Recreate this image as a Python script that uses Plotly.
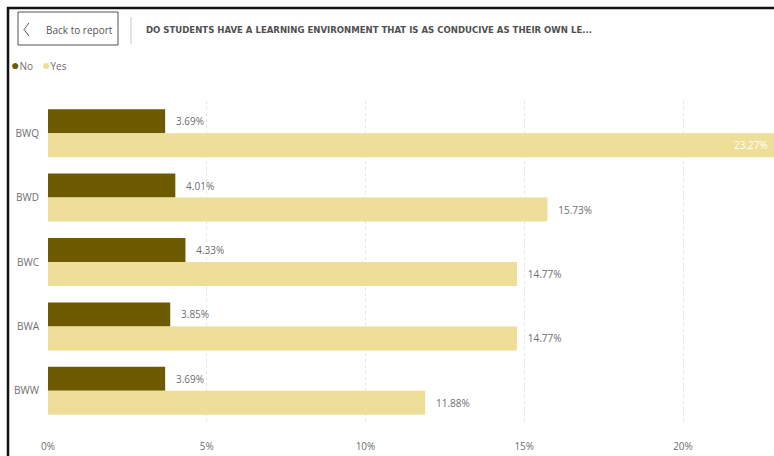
import plotly.graph_objects as go

categories = ["BWQ", "BWD", "BWC", "BWA", "BWW"]
no_values = [3.69, 4.01, 4.33, 3.85, 3.69]
yes_values = [23.27, 15.73, 14.77, 14.77, 11.88]
tick_vals = [0, 5, 10, 15, 20]
tick_text = ["0%", "5%", "10%", "15%", "20%"]
title_text = "DO STUDENTS HAVE A LEARNING ENVIRONMENT THAT IS AS CONDUCIVE AS THEIR OWN LE..."

NO_COLOR = "#6E5A00"
YES_COLOR = "#EEDE98"
LABEL_GRAY = "#6E6E6E"
FONT = "Segoe UI, Open Sans, sans-serif"

W, H = 774, 456
ML, MR, MT, MB = 48, 0, 101, 33
XMAX = (W - ML - MR) / 31.75


def px_x(x):
    return (x - ML) / (W - ML - MR)


def px_y(y):
    return 1 - (y - MT) / (H - MT - MB)


fig = go.Figure()

fig.add_trace(go.Bar(
    name="No", y=categories, x=no_values, orientation="h",
    marker=dict(color=NO_COLOR, line=dict(width=0)),
    text=["   %.2f%%" % v for v in no_values],
    textposition="outside", cliponaxis=False,
    textfont=dict(family=FONT, size=10, color=LABEL_GRAY),
))

yes_pos = ["none" if v > XMAX else "outside" for v in yes_values]
fig.add_trace(go.Bar(
    name="Yes", y=categories, x=yes_values, orientation="h",
    marker=dict(color=YES_COLOR, line=dict(width=0)),
    text=["   %.2f%%" % v for v in yes_values], textposition=yes_pos,
    textfont=dict(family=FONT, size=10, color=LABEL_GRAY),
    cliponaxis=True,
))

fig.update_layout(
    width=W, height=H,
    margin=dict(l=ML, r=MR, t=MT, b=MB),
    paper_bgcolor="white", plot_bgcolor="white",
    barmode="group", bargap=0.255, bargroupgap=0,
    showlegend=False,
    font=dict(family=FONT, size=10, color=LABEL_GRAY),
)
fig.update_xaxes(
    range=[0, XMAX], tickvals=tick_vals, ticktext=tick_text,
    showgrid=True, gridcolor="#E6E6E6", griddash="dot", gridwidth=1,
    zeroline=False, showline=False, ticks="", ticklabelstandoff=16,
    tickfont=dict(family=FONT, size=10, color=LABEL_GRAY),
)
fig.update_yaxes(
    autorange="reversed", showgrid=False, zeroline=False, showline=False,
    ticks="", ticklabelstandoff=8,
    tickfont=dict(family=FONT, size=10, color=LABEL_GRAY),
)

shapes = [
    dict(type="line", xref="paper", yref="paper", x0=px_x(7), x1=px_x(774),
         y0=px_y(8), y1=px_y(8), line=dict(color="#111111", width=2.5)),
    dict(type="line", xref="paper", yref="paper", x0=px_x(8), x1=px_x(8),
         y0=px_y(7), y1=px_y(456), line=dict(color="#111111", width=2.5)),
    dict(type="rect", xref="paper", yref="paper", x0=px_x(18), x1=px_x(118),
         y0=px_y(12), y1=px_y(45), line=dict(color="#555555", width=1),
         fillcolor="rgba(0,0,0,0)"),
    dict(type="path", xref="paper", yref="paper",
         path="M %f %f L %f %f L %f %f" % (px_x(29), px_y(23), px_x(24), px_y(29.5),
                                           px_x(29), px_y(36)),
         line=dict(color="#555555", width=1)),
    dict(type="line", xref="paper", yref="paper", x0=px_x(131), x1=px_x(131),
         y0=px_y(17), y1=px_y(44), line=dict(color="#C8C8C8", width=1)),
]

annotations = [
    dict(text="Back to report", xref="paper", yref="paper", x=px_x(44), y=px_y(30),
         xanchor="left", yanchor="middle", showarrow=False,
         font=dict(family=FONT, size=10, color="#555555")),
    dict(text="<b>" + title_text + "</b>", xref="paper", yref="paper",
         x=px_x(144), y=px_y(30), xanchor="left", yanchor="middle", showarrow=False,
         font=dict(family="DejaVu Sans Condensed, DejaVu Sans", size=9.5, color="#505050")),
    dict(text="<span style='color:%s;font-size:14px'>●</span>No" % NO_COLOR,
         xref="paper", yref="paper",
         x=px_x(9), y=px_y(64), xanchor="left", yanchor="middle", showarrow=False,
         font=dict(family=FONT, size=10, color=LABEL_GRAY)),
    dict(text="<span style='color:%s;font-size:14px'>●</span>Yes" % YES_COLOR,
         xref="paper", yref="paper",
         x=px_x(40), y=px_y(64), xanchor="left", yanchor="middle", showarrow=False,
         font=dict(family=FONT, size=10, color=LABEL_GRAY)),
]

# labels for bars that run past the visible axis range: shown inside the bar end
for cat, v in zip(categories, yes_values):
    if v > XMAX:
        annotations.append(dict(
            text="%.2f%%" % v, x=XMAX, y=cat, xref="x", yref="y",
            xanchor="right", yanchor="middle", xshift=-4, yshift=-12,
            showarrow=False, font=dict(family=FONT, size=10, color="#FFFFFF")))

fig.update_layout(shapes=shapes, annotations=annotations)

fig.write_html("out.html")
